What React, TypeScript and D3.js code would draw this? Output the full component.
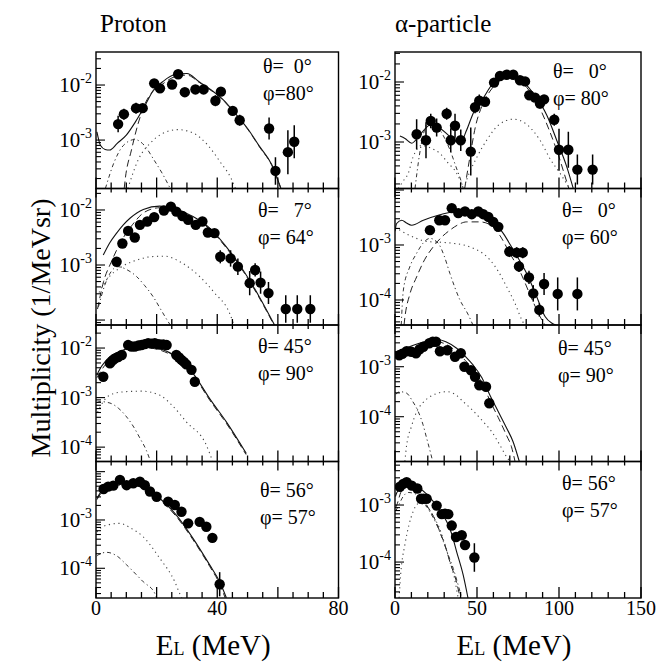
import React from 'react';
import * as d3 from 'd3';

// values are log10(multiplicity), errors are log10 half-widths
type Pt = [number, number, number];
type Cv = [number, number][];

// ---- proton, theta=0 phi=80
const pr0Pts: Pt[] = [
  [7.3, -2.71, 0.15], [9.2, -2.53, 0.1], [13.2, -2.42, 0.1], [15.4, -2.42, 0.08], [19.2, -1.97, 0.05],
  [21.1, -2.06, 0.05], [25.1, -1.99, 0.05], [27.1, -1.805, 0.04], [29.3, -2.13, 0.05], [32.8, -2.08, 0.05],
  [35.5, -2.08, 0.05], [39.4, -2.285, 0.1], [41.2, -2.12, 0.06], [45.1, -2.47, 0.08], [47.4, -2.64, 0.1],
  [57.1, -2.79, 0.2], [59.2, -3.56, 0.25], [63.3, -3.22, 0.4], [65.4, -3.03, 0.3],
];
const pr0Solid: Cv = [[0.3, -2.85], [1.5, -3.1], [3, -3.17], [4.5, -3.18], [7, -3.06], [10, -2.91], [13, -2.67], [16, -2.39],
  [19, -2.09], [22, -1.94], [26, -1.81], [30, -1.79], [34, -1.94], [38, -2.09], [42, -2.27], [46, -2.52], [50, -2.79],
  [54, -3.12], [58, -3.45], [61, -3.88]];
const pr0Dash: Cv = [[9.3, -3.88], [9.6, -3.73], [11.7, -3.18], [13.9, -2.7], [16.1, -2.35], [19, -2.1], [22, -1.98],
  [26, -1.85], [30, -1.82], [34, -1.95], [38, -2.1], [42, -2.28], [46, -2.53], [50, -2.8], [54, -3.13], [58, -3.46], [61, -3.88]];
const pr0DashDot: Cv = [[3.1, -3.88], [6, -3.4], [9, -3.1], [12.8, -2.99], [16, -3.1], [19, -3.35], [22, -3.62], [24.5, -3.88]];
const pr0Dot: Cv = [[10.5, -3.88], [14, -3.35], [18, -3.05], [22, -2.88], [27, -2.81], [32, -2.87], [37, -3.1], [41, -3.4],
  [44.6, -3.7], [46, -3.88]];

// ---- proton, theta=7 phi=64
const pr7Pts: Pt[] = [
  [6.8, -2.94, 0.08], [8.7, -2.61, 0.05], [10.6, -2.38, 0.05], [12.8, -2.5, 0.05], [14.5, -2.27, 0.04],
  [16.9, -2.21, 0.04], [19.2, -2.13, 0.04], [22.4, -2.01, 0.04], [24.7, -1.94, 0.04], [26.5, -2.03, 0.04],
  [28.5, -2.11, 0.04], [30.4, -2.18, 0.04], [32.9, -2.27, 0.04], [35.1, -2.21, 0.04], [36.9, -2.41, 0.05],
  [39.1, -2.42, 0.05], [41.0, -2.85, 0.12], [44.4, -2.88, 0.15], [46.8, -3.03, 0.15], [50.7, -3.33, 0.22],
  [52.5, -3.09, 0.12], [54.3, -3.32, 0.2], [56.9, -3.51, 0.2], [62.6, -3.8, 0.25], [66.4, -3.8, 0.25], [70.7, -3.8, 0.25],
];
const pr7Solid: Cv = [[2.4, -2.82], [4.5, -2.6], [6.8, -2.42], [9, -2.27], [11.2, -2.15], [15.6, -1.99], [21, -1.93],
  [25.4, -1.97], [32, -2.12], [37.5, -2.33], [43, -2.67], [48.5, -3.09], [53.9, -3.58], [58.9, -4.09]];
const pr7Dash: Cv = [[0.5, -3.8], [2.5, -3.3], [5, -2.95], [8, -2.6], [12, -2.27], [16, -2.04], [21, -1.96], [25.4, -1.99],
  [32, -2.14], [37.5, -2.35], [43, -2.69], [48.5, -3.11], [53.9, -3.6], [58.7, -4.09]];
const pr7DashDot: Cv = [[0.8, -3.76], [3, -3.35], [5, -3.12], [7.3, -3.03], [10, -3.08], [13.4, -3.21], [16, -3.37],
  [18.9, -3.58], [21.5, -3.82], [23.8, -4.03], [24.5, -4.09]];
const pr7Dot: Cv = [[1, -3.5], [3.5, -3.27], [8, -3.05], [14, -2.9], [18, -2.85], [22.7, -2.84], [28, -2.95], [34.2, -3.21],
  [39, -3.5], [44.1, -3.88], [45.5, -4.09]];

// ---- proton, theta=45 phi=90
const pr45Pts: Pt[] = [
  [2.4, -2.58, 0.05], [4.6, -2.31, 0.04], [5.5, -2.25, 0.04], [6.3, -2.21, 0.04], [7.3, -2.18, 0.04], [8.5, -2.14, 0.04],
  [10.6, -1.94, 0.04], [11.7, -1.97, 0.04], [12.8, -1.97, 0.04], [14, -1.95, 0.04], [15, -1.94, 0.04], [16.1, -1.92, 0.04],
  [17.2, -1.9, 0.04], [18.3, -1.91, 0.04], [19.4, -1.9, 0.04], [20.3, -1.92, 0.04], [21.1, -1.93, 0.04], [22.2, -1.93, 0.04],
  [23.3, -1.94, 0.04], [26.5, -2.14, 0.04], [27.4, -2.19, 0.04], [28.2, -2.24, 0.04], [29, -2.28, 0.04], [29.8, -2.33, 0.04],
  [31.5, -2.44, 0.05], [32.6, -2.68, 0.06],
];
const pr45Solid: Cv = [[0.3, -2.55], [0.8, -2.48], [3.5, -2.24], [9, -2.04], [15.6, -1.96], [21, -2.01], [26.5, -2.18],
  [32, -2.51], [37.5, -3.02], [43, -3.49], [49.6, -4.13]];
const pr45Dash: Cv = [[0.3, -2.6], [3.5, -2.3], [9, -2.07], [15.6, -1.99], [21, -2.04], [26.5, -2.21], [32, -2.54],
  [37.5, -3.05], [43, -3.52], [49.5, -4.15]];
const pr45DashDot: Cv = [[0.3, -3.1], [1.3, -3.08], [4.6, -3.11], [7.5, -3.22], [10.1, -3.39], [12.5, -3.6], [14.5, -3.82],
  [16.5, -4.05], [18, -4.29]];
const pr45Dot: Cv = [[0.5, -3.3], [2.4, -3.08], [5.7, -2.92], [10, -2.88], [15, -2.87], [21, -2.95], [25, -3.15],
  [29.8, -3.49], [36.4, -3.96], [38.5, -4.29]];

// ---- proton, theta=56 phi=57
const pr56Pts: Pt[] = [
  [2.5, -2.36, 0.04], [4.0, -2.31, 0.04], [5.7, -2.29, 0.04], [7.9, -2.17, 0.04], [10.1, -2.28, 0.04], [12.3, -2.24, 0.04],
  [14.5, -2.21, 0.04], [16.1, -2.28, 0.04], [17.8, -2.41, 0.04], [20.0, -2.52, 0.04], [23.8, -2.62, 0.05],
  [26.0, -2.69, 0.05], [28.2, -2.83, 0.05], [30.4, -3.07, 0.05], [34.2, -3.04, 0.05], [36.4, -3.14, 0.06],
  [38.4, -3.37, 0.1], [40.8, -4.33, 0.25],
];
const pr56Solid: Cv = [[0.3, -2.55], [1.3, -2.45], [4.6, -2.28], [10.1, -2.24], [15.6, -2.31], [21, -2.55], [26.5, -2.9],
  [32, -3.38], [37.5, -3.93], [40.8, -4.28], [43, -4.61]];
const pr56Dash: Cv = [[0.3, -2.58], [1.3, -2.48], [4.6, -2.31], [10.1, -2.27], [15.6, -2.34], [21, -2.58], [26.5, -2.93],
  [32, -3.41], [37.5, -3.96], [40.6, -4.3], [42.6, -4.61]];
const pr56DashDot: Cv = [[0.3, -3.75], [0.8, -3.72], [3.5, -3.67], [7, -3.75], [10.1, -3.93], [15.6, -4.28], [19.4, -4.52], [20, -4.61]];
const pr56Dot: Cv = [[0.3, -3.25], [0.8, -3.21], [4, -3.1], [7.9, -3.07], [11.5, -3.17], [15.6, -3.35], [21, -3.79],
  [26, -4.28], [27.6, -4.52], [28.3, -4.61]];

// ---- alpha, theta=0 phi=80
const al0Pts: Pt[] = [
  [13.2, -2.87, 0.25], [18.9, -2.97, 0.3], [21.8, -2.65, 0.12], [25.4, -2.76, 0.15], [31.5, -2.53, 0.1],
  [34.0, -2.97, 0.2], [36.6, -2.73, 0.2], [40.1, -2.97, 0.18], [46.2, -3.16, 0.4], [48.8, -2.42, 0.1],
  [51.4, -2.31, 0.1], [54.9, -2.33, 0.08], [60.4, -2.01, 0.04], [64.0, -1.9, 0.04], [68.1, -1.88, 0.04],
  [72.1, -1.88, 0.04], [76.2, -1.97, 0.04], [79.3, -1.99, 0.04], [81.9, -2.22, 0.05], [85.4, -2.26, 0.05],
  [88.4, -2.36, 0.06], [90.9, -2.29, 0.06], [97.1, -2.63, 0.1], [100.0, -3.13, 0.35], [105.7, -3.13, 0.3],
  [111.2, -3.46, 0.25], [120.5, -3.46, 0.25],
];
const al0Solid: Cv = [[3, -2.9], [6.1, -2.94], [10.2, -3.02], [15.2, -2.88], [21.3, -2.72], [27.4, -2.77], [33.5, -2.91],
  [39.6, -3.02], [43.7, -2.8], [47.7, -2.52], [53.8, -2.27], [59.9, -2.02], [68.1, -1.91], [76.2, -1.96], [84.3, -2.19],
  [92.5, -2.55], [98.6, -2.97], [104.7, -3.41], [108.7, -3.775]];
const al0Dash: Cv = [[42.5, -3.775], [46, -3.2], [49, -2.75], [53, -2.4], [58, -2.15], [64, -1.98], [70, -1.93], [76, -1.98],
  [82, -2.15], [88, -2.42], [94, -2.8], [100, -3.25], [104, -3.6], [106, -3.775]];
const al0DashDot: Cv = [[12.2, -3.775], [15, -3.2], [17.5, -2.85], [20.3, -2.66], [24, -2.7], [27.4, -2.8], [30.5, -2.95],
  [33.5, -3.13], [37, -3.4], [40.7, -3.69], [41.5, -3.775]];
const al0DotLow: Cv = [[2, -3.775], [5, -3.65], [8.1, -3.52], [11, -3.25], [13.2, -3.13], [16, -3.06], [20, -3.08],
  [24, -3.13], [27.4, -3.19], [32, -3.34], [37.6, -3.52], [41.7, -3.775]];
const al0DotHigh: Cv = [[42, -3.775], [43.7, -3.63], [50, -3.25], [55.9, -2.97], [63, -2.72], [72.1, -2.62], [80, -2.7],
  [88.4, -2.97], [95, -3.3], [100.6, -3.52], [106.5, -3.775]];

// ---- alpha, theta=0 phi=60
const al60Pts: Pt[] = [
  [21.3, -2.73, 0.06], [27.0, -2.55, 0.05], [30.5, -2.55, 0.05], [34.6, -2.33, 0.05], [38.6, -2.42, 0.04],
  [42.7, -2.39, 0.04], [46.8, -2.44, 0.04], [50.8, -2.39, 0.04], [53.8, -2.44, 0.04], [56.9, -2.49, 0.04],
  [59.9, -2.58, 0.04], [63.0, -2.67, 0.05], [69.7, -3.12, 0.1], [74.2, -3.14, 0.1], [77.9, -3.14, 0.1],
  [75.6, -3.39, 0.1], [81.7, -3.59, 0.12], [84.3, -3.88, 0.15], [88.0, -4.18, 0.12], [90.9, -3.71, 0.2],
  [99.2, -3.89, 0.3], [111.2, -3.89, 0.3],
];
const al60Solid: Cv = [[0, -2.75], [1.0, -2.61], [4.1, -2.55], [7, -2.6], [10.2, -2.64], [17.3, -2.55], [27.4, -2.45],
  [37.6, -2.39], [47.7, -2.39], [57.9, -2.51], [66.0, -2.79], [72.1, -3.09], [80.3, -3.52], [86.4, -3.94], [91.5, -4.3],
  [95.5, -4.42], [98, -4.455]];
const al60Dash: Cv = [[5.5, -4.455], [6.1, -4.3], [9, -3.9], [13.2, -3.58], [18, -3.27], [23.4, -3.03], [28, -2.87],
  [33.5, -2.73], [38, -2.64], [43.7, -2.58], [51.8, -2.58], [57.9, -2.63], [64, -2.83], [70, -3.15], [76.2, -3.48],
  [82.3, -3.9], [88.4, -4.3], [91.5, -4.455]];
const al60DashDot: Cv = [[3.8, -4.455], [5.1, -3.82], [9, -3.4], [13.2, -3.15], [17, -2.97], [21.3, -2.88], [26.4, -2.97],
  [30, -3.2], [33.5, -3.52], [39.6, -4.0], [44.7, -4.27], [47.5, -4.455]];
const al60Dot: Cv = [[0, -2.68], [2.4, -2.72], [7.1, -2.8], [13, -2.88], [20.3, -2.94], [28, -2.95], [35.5, -2.97], [42, -3.0],
  [47.7, -3.06], [53, -3.14], [57.9, -3.27], [63, -3.48], [68.1, -3.76], [73, -4.05], [77.3, -4.36], [79, -4.455]];

// ---- alpha, theta=45 phi=90
const al45Pts: Pt[] = [
  [2.6, -2.77, 0.04], [4.5, -2.74, 0.04], [7.1, -2.69, 0.04], [10, -2.7, 0.04], [12.8, -2.73, 0.04], [15, -2.65, 0.04],
  [17.3, -2.6, 0.04], [20.9, -2.53, 0.04], [23, -2.5, 0.04], [25.0, -2.5, 0.04], [27.4, -2.69, 0.04], [31.9, -2.67, 0.04],
  [36.6, -2.8, 0.04], [40.1, -2.73, 0.04], [42.3, -3.0, 0.05], [46.3, -3.07, 0.05], [48.8, -3.2, 0.05], [51.4, -3.37, 0.05],
  [55.5, -3.4, 0.06], [57.5, -3.73, 0.08],
];
const al45Solid: Cv = [[0, -2.72], [1.0, -2.7], [5, -2.65], [11.2, -2.57], [18, -2.5], [25.4, -2.45], [31, -2.5],
  [37.6, -2.63], [43, -2.8], [47.7, -2.97], [53, -3.22], [57.9, -3.57], [63, -3.9], [68.1, -4.23], [72, -4.5], [75.8, -4.896]];
const al45Dash: Cv = [[0, -2.76], [5, -2.69], [11.2, -2.62], [18, -2.55], [25.4, -2.5], [31, -2.55], [37.6, -2.7], [43, -2.88],
  [47.7, -3.05], [53, -3.32], [57.9, -3.68], [63, -4.02], [68.1, -4.38], [71, -4.6], [73.2, -4.896]];
const al45DashDot: Cv = [[0.5, -3.55], [3.0, -3.5], [7.1, -3.53], [10.5, -3.68], [14.2, -3.9], [17, -4.15], [19.3, -4.43],
  [21.5, -4.7], [23, -4.896]];
const al45Dot: Cv = [[6, -4.896], [7.1, -4.57], [10, -4.2], [13.2, -3.9], [17, -3.72], [21.3, -3.6], [26, -3.53], [31.5, -3.5],
  [37, -3.56], [41.6, -3.7], [47, -3.86], [53.8, -4.1], [59, -4.3], [64, -4.57], [68, -4.8], [70.1, -4.896]];

// ---- alpha, theta=56 phi=57
const al56Pts: Pt[] = [
  [3.0, -2.68, 0.04], [5, -2.63, 0.04], [7.1, -2.6, 0.04], [10.2, -2.66, 0.04], [13.6, -2.71, 0.04], [15.9, -2.89, 0.04],
  [17.5, -2.89, 0.04], [19.3, -2.89, 0.04], [25.4, -3.01, 0.05], [28.5, -3.16, 0.05], [30.5, -3.15, 0.05],
  [32.5, -3.16, 0.05], [34.6, -3.36, 0.05], [37.2, -3.56, 0.06], [40.7, -3.53, 0.06], [42.7, -3.7, 0.08], [48.4, -3.92, 0.25],
];
const al56Solid: Cv = [[0.3, -2.85], [1.0, -2.79], [4, -2.68], [7.1, -2.65], [11, -2.66], [15.2, -2.71], [19, -2.8],
  [23.4, -2.94], [27.5, -3.1], [31.5, -3.29], [34.5, -3.5], [37.6, -3.82], [41.6, -4.23], [44.5, -4.63]];
const al56Dash: Cv = [[0.3, -3.05], [1.1, -3.0], [3.5, -2.78], [6, -2.67], [8, -2.66], [12, -2.7], [16, -2.82], [19.3, -3.0],
  [23.5, -3.2], [27.4, -3.47], [31, -3.75], [33.5, -4.0], [37, -4.3], [39.8, -4.63]];
const al56DashDot: Cv = [[0.5, -3.1], [1.8, -3.03], [5, -2.85], [8, -2.78], [12, -2.8], [16, -2.9], [21.3, -3.12],
  [25.5, -3.35], [29.5, -3.64], [32.5, -3.88], [35.5, -4.11], [38, -4.35], [40.7, -4.63]];
const al56Dot: Cv = [[2.5, -4.63], [3.5, -4.2], [6, -3.7], [8.5, -3.35], [11, -3.12], [14, -2.98], [17, -2.98], [20, -3.05],
  [23.5, -3.2], [27, -3.4], [30, -3.65], [33, -3.95], [36, -4.25], [38.5, -4.63]];

const columnTitles = ['Proton', 'α-particle'];
const xDomains = [[0, 80], [0, 150]];
const xTickLabels = [[0, 40, 80], [0, 50, 100, 150]];

const panels = [
  { col: 0, row: 0, yDom: [-3.88, -1.4], pts: pr0Pts, theta: 'θ=  0°', phi: 'φ=80°', tx: 263, ty: 73,
    curves: [['solid', pr0Solid], ['dash', pr0Dash], ['dashdot', pr0DashDot], ['dot', pr0Dot]] },
  { col: 0, row: 1, yDom: [-4.09, -1.61], pts: pr7Pts, theta: 'θ=   7°', phi: 'φ= 64°', tx: 258, ty: 217,
    curves: [['solid', pr7Solid], ['dash', pr7Dash], ['dashdot', pr7DashDot], ['dot', pr7Dot]] },
  { col: 0, row: 2, yDom: [-4.29, -1.535], pts: pr45Pts, theta: 'θ= 45°', phi: 'φ= 90°', tx: 258, ty: 353,
    curves: [['solid', pr45Solid], ['dash', pr45Dash], ['dashdot', pr45DashDot], ['dot', pr45Dot]] },
  { col: 0, row: 3, yDom: [-4.615, -1.79], pts: pr56Pts, theta: 'θ= 56°', phi: 'φ= 57°', tx: 260, ty: 497,
    curves: [['solid', pr56Solid], ['dash', pr56Dash], ['dashdot', pr56DashDot], ['dot', pr56Dot]] },
  { col: 1, row: 0, yDom: [-3.775, -1.5], pts: al0Pts, theta: 'θ=   0°', phi: 'φ= 80°', tx: 553, ty: 78,
    curves: [['solid', al0Solid], ['dash', al0Dash], ['dashdot', al0DashDot], ['dot', al0DotLow], ['dot', al0DotHigh]] },
  { col: 1, row: 1, yDom: [-4.455, -1.973], pts: al60Pts, theta: 'θ=   0°', phi: 'φ= 60°', tx: 562, ty: 217,
    curves: [['solid', al60Solid], ['dash', al60Dash], ['dashdot', al60DashDot], ['dot', al60Dot]] },
  { col: 1, row: 2, yDom: [-4.896, -2.166], pts: al45Pts, theta: 'θ= 45°', phi: 'φ= 90°', tx: 558, ty: 355,
    curves: [['solid', al45Solid], ['dash', al45Dash], ['dashdot', al45DashDot], ['dot', al45Dot]] },
  { col: 1, row: 3, yDom: [-4.63, -2.237], pts: al56Pts, theta: 'θ= 56°', phi: 'φ= 57°', tx: 562, ty: 490,
    curves: [['solid', al56Solid], ['dash', al56Dash], ['dashdot', al56DashDot], ['dot', al56Dot]] },
];

const FONT = "'Liberation Serif', 'Times New Roman', Times, 'DejaVu Serif', serif";
const colX = [[96, 338.5], [395, 641]];
const xMajor = [20, 50];
const xMinor = [5, 10];
const top0 = 52;
const panelH = 136.5;

const lineStyle: Record<string, any> = {
  solid: { stroke: '#111', strokeWidth: 1.1, dash: null },
  dash: { stroke: '#222', strokeWidth: 1, dash: '7,4' },
  dashdot: { stroke: '#333', strokeWidth: 1, dash: '4,3,1.2,3' },
  dot: { stroke: '#444', strokeWidth: 1.1, dash: '1.2,3.6' },
};

function Panel({ p, idx }: { p: any; idx: number }) {
  const [x0, x1] = colX[p.col];
  const y0 = top0 + p.row * panelH;
  const y1 = y0 + panelH;
  const x = d3.scaleLinear().domain(xDomains[p.col]).range([x0, x1]);
  const y = d3.scaleLog().domain([10 ** p.yDom[0], 10 ** p.yDom[1]]).range([y1, y0]);
  const line = d3.line<[number, number]>()
    .x(d => x(d[0]))
    .y(d => y(10 ** d[1]))
    .curve(d3.curveMonotoneX);

  const xTicks = d3.range(xDomains[p.col][0], xDomains[p.col][1] + 0.001, xMinor[p.col]);
  const yTicks: { v: number; major: boolean; e: number }[] = [];
  for (let e = Math.floor(p.yDom[0]); e <= Math.ceil(p.yDom[1]); e++) {
    for (let m = 1; m <= 9; m++) {
      const v = m * 10 ** e;
      if (v >= 10 ** p.yDom[0] && v <= 10 ** p.yDom[1]) yTicks.push({ v, major: m === 1, e });
    }
  }
  const clipId = `clip${idx}`;

  return (
    <g>
      <defs>
        <clipPath id={clipId}>
          <rect x={x0} y={y0} width={x1 - x0} height={y1 - y0} />
        </clipPath>
      </defs>
      <g clipPath={`url(#${clipId})`}>
        {p.curves.map(([kind, data]: [string, Cv], i: number) => {
          const s = lineStyle[kind];
          return (
            <path key={i} d={line(data) || ''} fill="none" stroke={s.stroke}
              strokeWidth={s.strokeWidth} strokeDasharray={s.dash || undefined} />
          );
        })}
        {p.pts.map((d: Pt, i: number) => (
          <g key={i}>
            <line x1={x(d[0])} x2={x(d[0])} y1={y(10 ** (d[1] + d[2]))} y2={y(10 ** (d[1] - d[2]))}
              stroke="#000" strokeWidth={1.5} />
            <circle cx={x(d[0])} cy={y(10 ** d[1])} r={5.2} fill="#000" />
          </g>
        ))}
      </g>
      <rect x={x0} y={y0} width={x1 - x0} height={y1 - y0} fill="none" stroke="#000" strokeWidth={1.4} />
      {xTicks.map((t, i) => {
        const major = Math.abs(t / xMajor[p.col] - Math.round(t / xMajor[p.col])) < 1e-6;
        const len = major ? 11 : 6;
        return (
          <g key={i}>
            <line x1={x(t)} x2={x(t)} y1={y1} y2={y1 - len} stroke="#000" strokeWidth={1.3} />
            {p.row > 0 && <line x1={x(t)} x2={x(t)} y1={y0} y2={y0 + len - 2} stroke="#000" strokeWidth={1.3} />}
          </g>
        );
      })}
      {yTicks.map((t, i) => (
        <line key={i} x1={x0} x2={x0 + (t.major ? 9 : 5)} y1={y(t.v)} y2={y(t.v)} stroke="#000" strokeWidth={1.1} />
      ))}
      {yTicks.filter(t => t.major && y(t.v) > y0 + 12 && y(t.v) < y1 - 12).map((t, i) => (
        <text key={i} x={x0 - 4} y={y(t.v) + 7} textAnchor="end" fontSize={21}>
          10<tspan dy={-9} fontSize={14}>{'-' + Math.abs(t.e)}</tspan>
        </text>
      ))}
      <text x={p.tx} y={p.ty} fontSize={20} style={{ whiteSpace: 'pre' }}>{p.theta}</text>
      <text x={p.tx} y={p.ty + 27} fontSize={20} style={{ whiteSpace: 'pre' }}>{p.phi}</text>
      {p.row === 3 && xTickLabels[p.col].map((t, i) => (
        <text key={i} x={x(t)} y={615} textAnchor="middle" fontSize={20}>{t}</text>
      ))}
    </g>
  );
}

export default function App() {
  return (
    <svg width={670} height={666}
      style={{ position: 'absolute', left: 0, top: 0, background: '#fff', fontFamily: FONT }}>
      <rect width={670} height={666} fill="#fff" />
      <text x={100} y={32} fontSize={25}>{columnTitles[0]}</text>
      <text x={395} y={32} fontSize={25}>{columnTitles[1]}</text>
      {panels.map((p, i) => <Panel key={i} p={p} idx={i} />)}
      <text transform="translate(50,328) rotate(-90)" textAnchor="middle" fontSize={28}>
        Multiplicity (1/MeVsr)
      </text>
      {[0, 1].map(c => (
        <text key={c} x={(colX[c][0] + colX[c][1]) / 2 - 4} y={655} textAnchor="middle" fontSize={29}>
          E<tspan fontSize={18}>L</tspan> (MeV)
        </text>
      ))}
    </svg>
  );
}
